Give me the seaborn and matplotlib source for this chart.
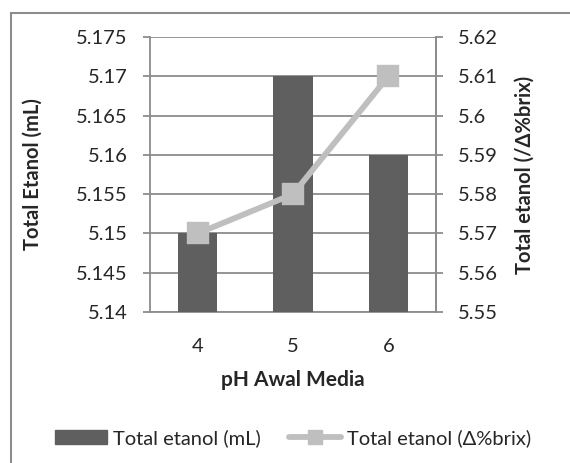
import matplotlib
matplotlib.use("Agg")
import matplotlib.pyplot as plt
import seaborn as sns
import pandas as pd
from matplotlib.patches import Rectangle
from matplotlib.lines import Line2D
from matplotlib.patches import Patch

categories = ["4", "5", "6"]
etanol_ml = [5.15, 5.17, 5.16]
etanol_brix = [5.57, 5.58, 5.61]
left_ticks = [5.14, 5.145, 5.15, 5.155, 5.16, 5.165, 5.17, 5.175]
left_labels = ["5.14", "5.145", "5.15", "5.155", "5.16", "5.165", "5.17", "5.175"]
right_ticks = [5.55, 5.56, 5.57, 5.58, 5.59, 5.60, 5.61, 5.62]
right_labels = ["5.55", "5.56", "5.57", "5.58", "5.59", "5.6", "5.61", "5.62"]

sns.set_theme(style="white")
plt.rcParams['font.family'] = ['Lato', 'DejaVu Sans']

df = pd.DataFrame({"pH": categories, "ml": etanol_ml, "brix": etanol_brix})

fig = plt.figure(figsize=(5.70, 4.63), dpi=100)
L, R, T, B = 150, 436, 37, 312
ax = fig.add_axes([L/570, 1-B/463, (R-L)/570, (B-T)/463])

bar_color = "#5f5f5f"
line_color = "#bfbfbf"
grid_color = "#8c8c8c"
txt = "#262626"
fs = 14.5

sns.barplot(data=df, x="pH", y="ml", color=bar_color, width=0.41, ax=ax,
            saturation=1, linewidth=0, zorder=3)
ax.set_ylim(5.14, 5.175)
ax.set_xlim(-0.5, 2.5)
ax.set_yticks(left_ticks)
ax.set_yticklabels(left_labels)
ax.yaxis.grid(True, color=grid_color, linewidth=1.3, zorder=0)
ax.set_axisbelow(True)
ax.spines["top"].set_visible(False)
for s in ["left", "right", "bottom"]:
    ax.spines[s].set_color(grid_color)
    ax.spines[s].set_linewidth(1.3)
ax.tick_params(axis="y", which="both", left=True, length=5, width=1.3,
               color=grid_color, labelsize=fs, labelcolor=txt, pad=11)
ax.tick_params(axis="x", bottom=False, labelsize=fs, labelcolor=txt, pad=13)
ax.set_xlabel("pH Awal Media", fontsize=15, fontweight="bold", color=txt)
ax.xaxis.set_label_coords(0.5, (B-380)/(B-T), transform=ax.transAxes)
ax.xaxis.label.set_va("center")
ax.set_ylabel("Total Etanol (mL)", fontsize=14.5, fontweight="bold", color=txt)
ax.yaxis.set_label_coords((33-L)/(R-L), 0.5)
ax.yaxis.label.set_va("center")

ax2 = ax.twinx()
sns.pointplot(data=df, x="pH", y="brix", color=line_color, markers="s",
              markersize=13.5, linewidth=4.2, ax=ax2, zorder=4)
ax2.set_ylim(5.55, 5.62)
ax2.set_xlim(-0.5, 2.5)
ax2.set_yticks(right_ticks)
ax2.set_yticklabels(right_labels)
for s in ["top", "left", "bottom"]:
    ax2.spines[s].set_visible(False)
ax2.spines["right"].set_color(grid_color)
ax2.spines["right"].set_linewidth(1.3)
ax2.tick_params(axis="y", right=True, length=5, width=1.3, color=grid_color,
                labelsize=fs, labelcolor=txt, pad=11)
ax2.set_ylabel("Total etanol (/Δ%brix)", fontsize=14.5, fontweight="bold", color=txt)
ax2.yaxis.set_label_coords((525-L)/(R-L), 0.5)
ax2.yaxis.label.set_va("center")
ax2.grid(False)

handles = [Patch(facecolor=bar_color, edgecolor=bar_color),
           Line2D([], [], color=line_color, marker="s", markersize=10, linewidth=4.2)]
fig.legend(handles, ["Total etanol (mL)", "Total etanol (Δ%brix)"],
           loc="center", bbox_to_anchor=(293/570, 1-438/463), ncol=2,
           frameon=False, fontsize=fs, handlelength=2.6, handletextpad=0.3,
           columnspacing=1.4, labelcolor=txt)

fig.patches.append(Rectangle((11/570, -0.1), 1.2, 1 - 13/463 + 0.1,
                             transform=fig.transFigure, fill=False,
                             edgecolor="#8c8c8c", linewidth=1.5))

fig.savefig("out.png", dpi=100)
